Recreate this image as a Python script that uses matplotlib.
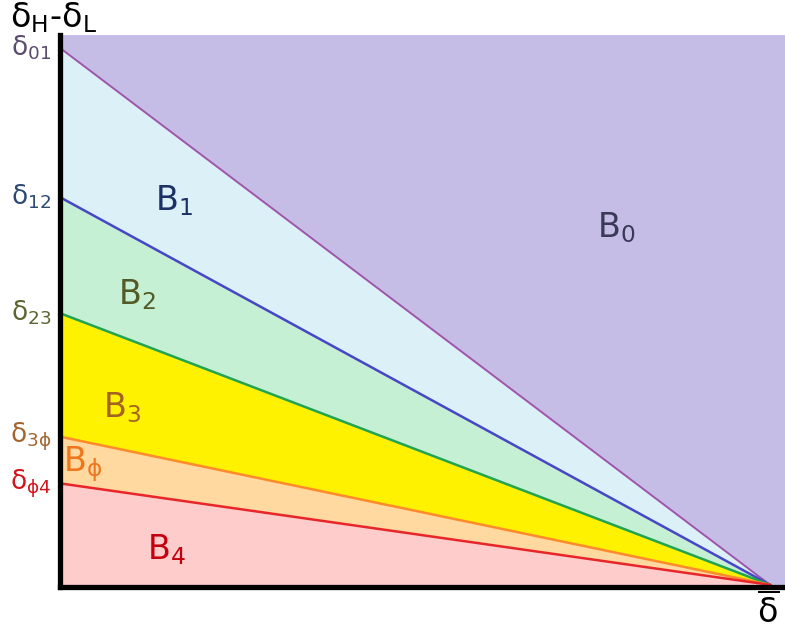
import numpy as np
import matplotlib.pyplot as plt

# boundary intercepts on the vertical axis (delta_H - delta_L), all meet at delta_bar
bounds = ['01', '12', '23', '3\\phi', '\\phi4']
intercepts = [1.0, 0.722, 0.506, 0.276, 0.189]
line_colors = ['#a055aa', '#4646c8', '#22a455', '#ff8a2a', '#e8262a']
tick_colors = ['#5a4c6c', '#2c4a72', '#5e6432', '#a4642e', '#d2141e']

regions = ['B_1', 'B_2', 'B_3', 'B_\\phi', 'B_4']
fill_colors = ['#dcf0f8', '#c6f0d4', '#fff200', '#ffd9a0', '#ffcccc']
region_colors = ['#1c3264', '#545a26', '#a46222', '#f0761e', '#c4000e']
region_pos = [(0.134, 0.715), (0.082, 0.54), (0.061, 0.33), (0.004, 0.225), (0.123, 0.065)]

bg = '#c6bde7'
x_conv = 1.0

fig = plt.figure(figsize=(7.85, 6.34), dpi=100)
ax = fig.add_axes([60/785, 47/634, 725/785, 552/634])
ax.set_facecolor(bg)

x = np.array([0.0, x_conv])
lines = [np.array([b, 0.0]) for b in intercepts]
floor = np.zeros(2)
for i in range(len(lines)):
    lower = lines[i+1] if i+1 < len(lines) else floor
    ax.fill_between(x, lower, lines[i], color=fill_colors[i], lw=0, zorder=1)
for i, l in enumerate(lines):
    ax.plot(x, l, color=line_colors[i], lw=1.8 if i else 1.4, zorder=2)

ax.set_xlim(0, 725/710)
ax.set_ylim(-0.004, 552/539)
ax.set_xticks([])
ax.set_yticks([])
for s in ['top', 'right']:
    ax.spines[s].set_visible(False)
ax.spines['left'].set_linewidth(3.8)
ax.spines['bottom'].set_linewidth(3.8)

for b, v, c in zip(bounds, intercepts, tick_colors):
    ax.text(-0.012, v, r'$\mathrm{\delta}_{\mathrm{%s}}$' % b, color=c, fontsize=19,
            ha='right', va='center', clip_on=False)

for r, (px, py), c in zip(regions, region_pos, region_colors):
    ax.text(px, py, r'$\mathrm{%s}$' % r, color=c, fontsize=24, ha='left', va='center')
ax.text(0.756, 0.666, r'$\mathrm{B_0}$', color='#3a3a58', fontsize=24, ha='left', va='center')

fig.text(10/785, 1 - 18/634, r'$\mathrm{\delta_H}$-$\mathrm{\delta_L}$', fontsize=24,
         ha='left', va='center')
fig.text(768/785, 1 - 611/634, r'$\overline{\mathrm{\delta}}$', fontsize=24,
         ha='center', va='center', zorder=5)

fig.savefig('out.png', dpi=100)
